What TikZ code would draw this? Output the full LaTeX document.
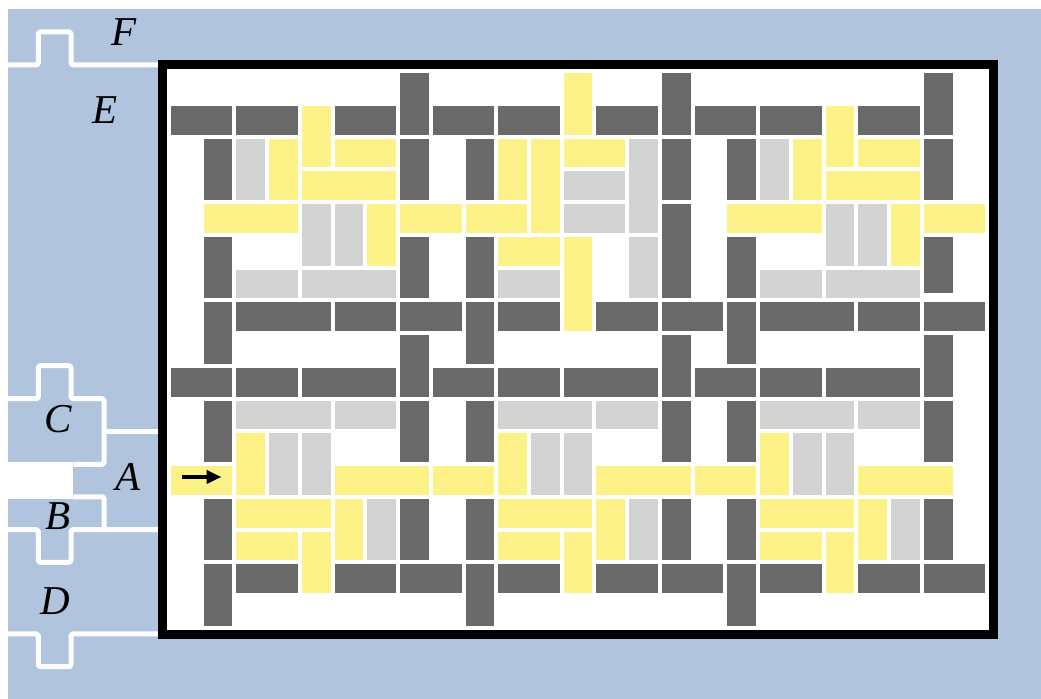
\documentclass[tikz,border=0pt]{standalone}
\usepackage{fontspec}
\setmainfont{Liberation Serif}
\usetikzlibrary{arrows.meta}
\definecolor{wallblue}{HTML}{B0C4DE}
\definecolor{tileyellow}{HTML}{FDF287}
\definecolor{tilegray}{HTML}{D3D3D3}
\definecolor{tiledark}{HTML}{696969}
\tikzset{
  darktile/.style={fill=tiledark},
  yellowtile/.style={fill=tileyellow},
  graytile/.style={fill=tilegray},
  seam/.style={draw=white,line width=2.5pt,rounded corners=0.8pt},
  doorlabel/.style={anchor=base,inner sep=0pt,font=\fontsize{20.5}{24}\selectfont\itshape}
}
\newcommand{\tilerect}[5]{\fill[#1] ({171+32.73*#2},{73.3+32.73*#3}) rectangle ++({32.73*#4-4},{32.73*#5-4});}

\begin{document}
\begin{tikzpicture}[x=0.5pt,y=-0.5pt,>=Stealth,line join=round]
  \useasboundingbox (0,0) rectangle (1041,699);
  \fill[wallblue] (8,9) rectangle (1041,699);
  \fill[white] (0,461.7) rectangle (73.3,499.3);
  % seams between the outer pieces
  \draw[seam] (8,65) -- (38.3,65) -- (38.3,32) -- (71,32) -- (71,65) -- (158,65);
  \draw[seam] (8,398.7) -- (38.3,398.7) -- (38.3,365.7) -- (71,365.7) -- (71,398.7) -- (104,398.7) -- (104,464.3) -- (73.3,464.3);
  \draw[seam] (104,431.7) -- (158,431.7);
  \draw[seam] (73.3,496.8) -- (104,496.8) -- (104,529.7);
  \draw[seam] (8,529.7) -- (38.3,529.7) -- (38.3,562.3) -- (71,562.3) -- (71,529.7) -- (158,529.7);
  \draw[seam] (8,634) -- (38.3,634) -- (38.3,666.7) -- (71,666.7) -- (71,634) -- (158,634);
  % room
  \draw[fill=white,line width=4.5pt,line join=miter] (162.5,64.8) rectangle (993.8,634.2);
  % dark tiles
  \foreach \c/\r/\w/\h in {0/1/2/1, 2/1/2/1, 5/1/2/1, 7/0/1/2, 8/1/2/1, 10/1/2/1, 13/1/2/1, 15/0/1/2, 16/1/2/1, 18/1/2/1, 21/1/2/1, 23/0/1/2,
    1/2/1/2, 7/2/1/2, 9/2/1/2, 15/2/1/2, 17/2/1/2, 23/2/1/2, 15/4/1/3,
    1/5/1/2, 7/5/1/2, 9/5/1/2, 17/5/1/2, 23/5/1/1.83,
    1/7/1/2, 2/7/3/1, 5/7/2/1, 7/7/2/1, 9/7/1/2, 10/7/2/1, 13/7/2/1, 15/7/2/1, 17/7/1/2, 18/7/3/1, 21/7/2/1, 23/7/2/1,
    7/8/1/2, 15/8/1/2, 23/8/1/2,
    0/9/2/1, 2/9/2/1, 4/9/3/1, 8/9/2/1, 10/9/2/1, 12/9/3/1, 16/9/2/1, 18/9/2/1, 20/9/3/1,
    1/10/1/2, 7/10/1/2, 9/10/1/2, 15/10/1/2, 17/10/1/2, 23/10/1/2,
    1/13/1/2, 7/13/1/2, 9/13/1/2, 15/13/1/2, 17/13/1/2, 23/13/1/2,
    1/15/1/2, 2/15/2/1, 5/15/2/1, 7/15/2/1, 9/15/1/2, 10/15/2/1, 13/15/2/1, 15/15/2/1, 17/15/1/2, 18/15/2/1, 21/15/2/1, 23/15/2/1}
    {\tilerect{darktile}{\c}{\r}{\w}{\h}}
  % yellow tiles
  \foreach \c/\r/\w/\h in {4/1/1/2, 12/0/1/2, 20/1/1/2,
    3/2/1/2, 5/2/2/1, 10/2/1/2, 11/2/1/3, 12/2/2/1, 19/2/1/2, 21/2/2/1,
    4/3/3/1, 20/3/3/1,
    1/4/3/1, 6/4/1/2, 7/4/2/1, 9/4/2/1, 17/4/3/1, 22/4/1/2, 23/4/2/1,
    10/5/2/1, 12/5/1/3,
    2/11/1/2, 10/11/1/2, 18/11/1/2,
    0/12/2/1, 5/12/3/1, 8/12/2/1, 13/12/3/1, 16/12/2/1, 21/12/3/1,
    2/13/3/1, 5/13/1/2, 10/13/3/1, 13/13/1/2, 18/13/3/1, 21/13/1/2,
    2/14/2/1, 4/14/1/2, 10/14/2/1, 12/14/1/2, 18/14/2/1, 20/14/1/2}
    {\tilerect{yellowtile}{\c}{\r}{\w}{\h}}
  % gray tiles
  \foreach \c/\r/\w/\h in {2/2/1/2, 14/2/1/3, 18/2/1/2,
    12/3/2/1, 4/4/1/2, 5/4/1/2, 12/4/2/1, 20/4/1/2, 21/4/1/2,
    14/5/1/2, 2/6/2/1, 4/6/3/1, 10/6/2/1, 18/6/2/1, 20/6/3/1,
    2/10/3/1, 5/10/2/1, 10/10/3/1, 13/10/2/1, 18/10/3/1, 21/10/2/1,
    3/11/1/2, 4/11/1/2, 11/11/1/2, 12/11/1/2, 19/11/1/2, 20/11/1/2,
    6/13/1/2, 14/13/1/2, 22/13/1/2}
    {\tilerect{graytile}{\c}{\r}{\w}{\h}}
  % entry arrow
  \coordinate (entry) at (182,477);
  \coordinate (entryend) at (221.5,477);
  \draw[-{Triangle[length=7.5pt,width=6.5pt]},line width=2pt] (entry) -- (entryend);
  \node[doorlabel] (labF) at (124.5,46) {F};
  \node[doorlabel] (labE) at (105,124) {E};
  \node[doorlabel] (labC) at (58.5,432.5) {C};
  \node[doorlabel] (labA) at (128.5,491) {A};
  \node[doorlabel] (labB) at (58.5,530) {B};
  \node[doorlabel] (labD) at (55.5,615) {D};
\end{tikzpicture}
\end{document}
